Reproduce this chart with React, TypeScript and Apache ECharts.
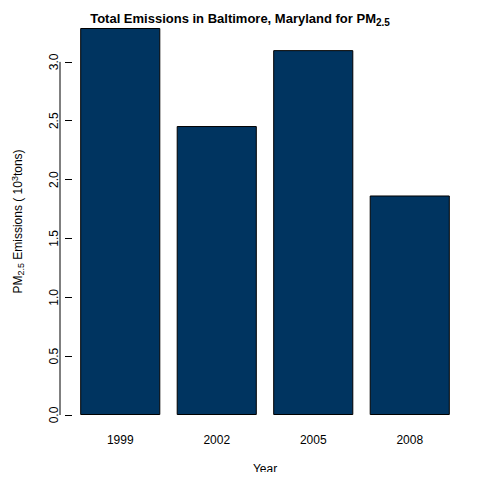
import { useEffect, useRef } from "react";
import * as echarts from "echarts";

const years = ["1999", "2002", "2005", "2008"];
const emissions = [3.288, 2.455, 3.1, 1.865];
const yTicks = [0, 0.5, 1, 1.5, 2, 2.5, 3];

const FONT = "Liberation Sans, Arial, sans-serif";

export default function App() {
  const ref = useRef<HTMLDivElement | null>(null);

  useEffect(() => {
    if (!ref.current) return;
    const chart = echarts.init(ref.current, undefined, { renderer: "svg" });
    chart.setOption({
      animation: false,
      textStyle: { fontFamily: FONT },
      title: {
        text: "{t|Total Emissions in Baltimore, Maryland for PM}{s|2.5}",
        left: "center",
        top: 4,
        textStyle: {
          rich: {
            t: { fontSize: 13, color: "#000", fontFamily: FONT },
            s: { fontSize: 10, color: "#000", fontFamily: FONT, padding: [8, 0, 0, 0] },
          },
        },
      },
      grid: { left: 72, right: 22, top: 28, bottom: 63 },
      xAxis: {
        type: "category",
        data: years,
        axisLine: { show: false },
        axisTick: { show: false },
        axisLabel: { color: "#000", fontSize: 12, margin: 19 },
        name: "Year",
        nameLocation: "middle",
        nameGap: 48,
        nameTextStyle: { color: "#000", fontSize: 12 },
      },
      yAxis: {
        type: "value",
        min: 0,
        max: emissions[0],
        interval: 0.5,
        splitLine: { show: false },
        axisLine: { show: false },
        axisTick: { show: true, length: 7, lineStyle: { color: "#000" } },
        axisLabel: {
          color: "#000",
          fontSize: 12,
          rotate: 90,
          margin: 12,
          showMaxLabel: false,
          formatter: (v: number) => (yTicks.includes(v) ? v.toFixed(1) : ""),
        },
        name: "{t|PM}{s|2.5}{t| Emissions ( 10}{p|3}{t|tons)}",
        nameLocation: "middle",
        nameGap: 47,
        nameRotate: 90,
        nameTextStyle: {
          rich: {
            t: { fontSize: 12, color: "#000", fontFamily: FONT },
            s: { fontSize: 9, color: "#000", fontFamily: FONT, padding: [0, 0, -6, 0] },
            p: { fontSize: 9, color: "#000", fontFamily: FONT, padding: [0, 0, 6, 0] },
          },
        },
      },
      series: [
        {
          type: "bar",
          data: emissions,
          barCategoryGap: "17%",
          itemStyle: { color: "#003460", borderColor: "#000", borderWidth: 1 },
        },
      ],
    });
    const x = chart.convertToPixel({ gridIndex: 0 }, [0, 0])[0];
    const gx = 72 - 12;
    const y0 = chart.convertToPixel({ yAxisIndex: 0 }, 0);
    const y3 = chart.convertToPixel({ yAxisIndex: 0 }, 3);
    void x;
    chart.setOption({
      graphic: [
        {
          type: "line",
          shape: { x1: gx, y1: y0, x2: gx, y2: y3 },
          style: { stroke: "#000", lineWidth: 1 },
        },
      ],
    });
    return () => chart.dispose();
  }, []);

  return <div ref={ref} style={{ width: 480, height: 480, margin: -8 }} />;
}
